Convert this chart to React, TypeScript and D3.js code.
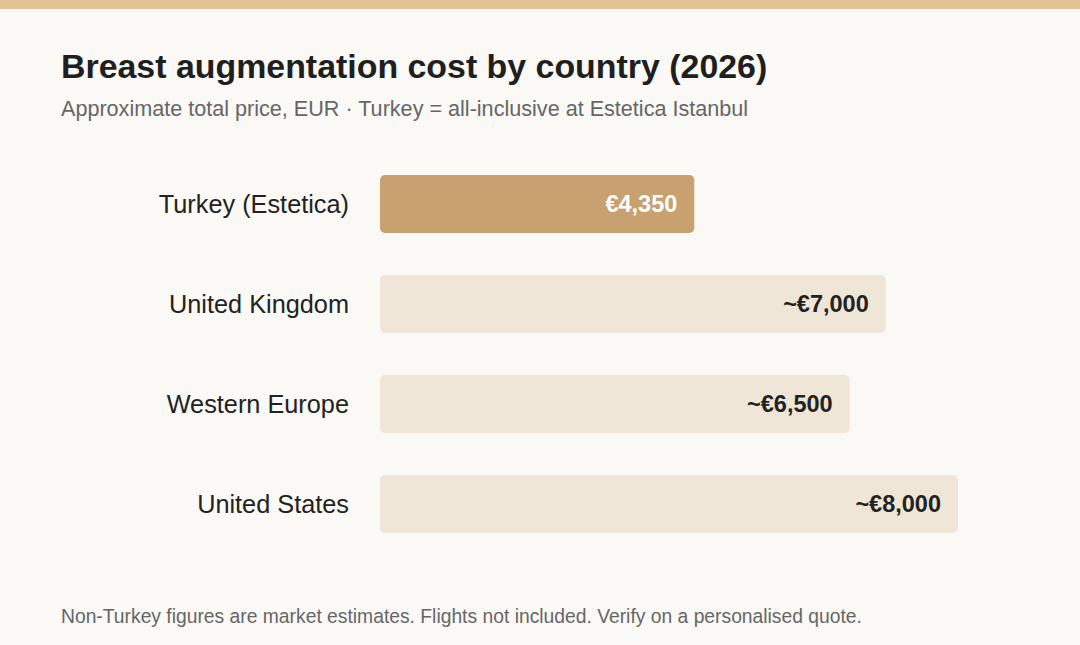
import React from "react";
import * as d3 from "d3";

const countries = ["Turkey (Estetica)", "United Kingdom", "Western Europe", "United States"];
const prices = [4350, 7000, 6500, 8000];
const valueLabels = ["€4,350", "~€7,000", "~€6,500", "~€8,000"];
const highlight = [true, false, false, false];

const W = 1080;
const H = 645;

export default function App() {
  const x = d3.scaleLinear().domain([0, 8000]).range([380, 958]);
  const y = d3.scaleBand().domain(countries).range([154, 554]).paddingInner(0.42).paddingOuter(0.21);
  const font = "'Liberation Sans', Arial, Helvetica, sans-serif";
  return (
    <svg width={W} height={H} style={{ position: "absolute", left: 0, top: 0, display: "block" }} fontFamily={font}>
      <rect x={0} y={0} width={W} height={H} fill="#faf9f5" />
      <rect x={0} y={0} width={W} height={9} fill="#e3c396" />
      <text x={61} y={78} fontSize={33.9} fontWeight={700} fill="#1f1f1f">Breast augmentation cost by country (2026)</text>
      <text x={61} y={116} fontSize={21.6} fill="#666">Approximate total price, EUR · Turkey = all-inclusive at Estetica Istanbul</text>
      {countries.map((c, i) => {
        const yy = y(c)!;
        const bh = y.bandwidth();
        return (
          <g key={c}>
            <rect x={x(0)} y={yy} width={x(prices[i]) - x(0)} height={bh} rx={5} fill={highlight[i] ? "#c9a06f" : "#efe6d8"} />
            <text x={349} y={yy + bh / 2} dy="0.35em" textAnchor="end" fontSize={25.3} fill="#222">{c}</text>
            <text x={x(prices[i]) - 17} y={yy + bh / 2} dy="0.35em" textAnchor="end" fontSize={23.5} fontWeight={700} fill={highlight[i] ? "#ffffff" : "#222"}>{valueLabels[i]}</text>
          </g>
        );
      })}
      <text x={61} y={623} fontSize={19.3} fill="#666">Non-Turkey figures are market estimates. Flights not included. Verify on a personalised quote.</text>
    </svg>
  );
}
